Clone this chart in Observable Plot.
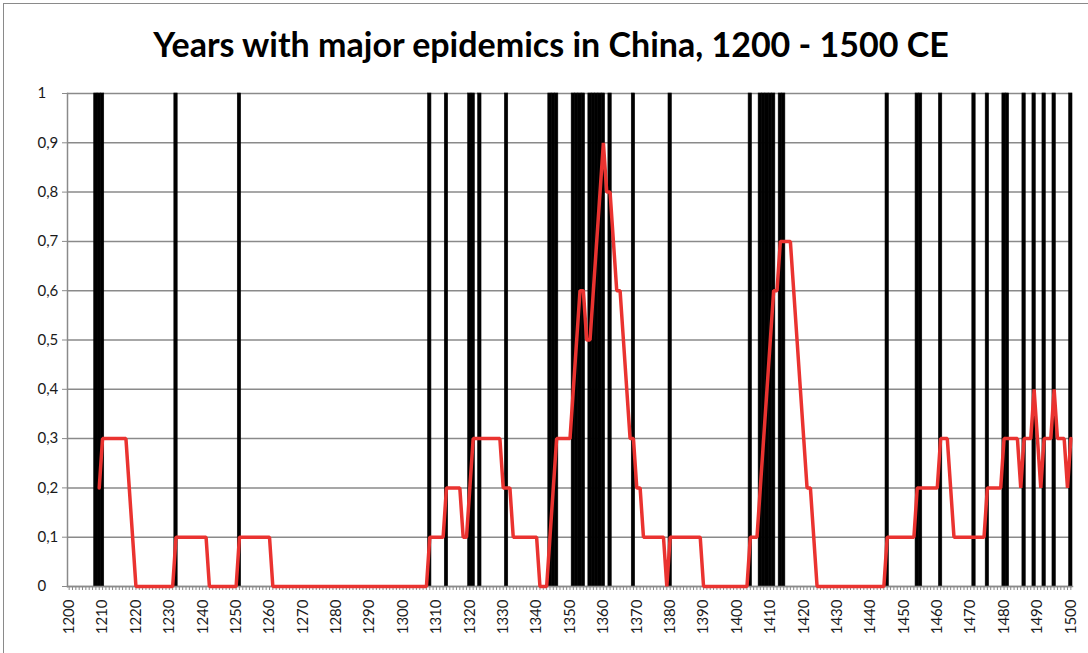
<!DOCTYPE html>
<html><head><meta charset="utf-8">
<script src="https://cdn.jsdelivr.net/npm/d3@7"></script>
<script src="https://cdn.jsdelivr.net/npm/@observablehq/plot@0.6"></script>
<style>
html,body{margin:0;padding:0;background:#fff;overflow:hidden;width:1088px;height:653px;position:relative;}
#frame{position:absolute;left:3px;top:3px;width:1100px;height:700px;border:1px solid #8a8a8a;}
#title{position:absolute;left:4px;top:22px;width:1094px;text-align:center;font:bold 34px Lato;color:#000;line-height:44px;}
#chart{position:absolute;left:0;top:80px;}
</style></head><body>
<div id="frame"></div>
<div id="title">Years with major epidemics in China, 1200 - 1500 CE</div>
<div id="chart"></div>
<script>
const epidemicYears = [1208,1209,1210,1232,1251,1308,1313,1320,1321,1323,1331,1344,1345,1346,
  1351,1352,1353,1354,1356,1357,1358,1359,1360,1362,1369,1380,1404,1407,1408,1409,1410,1411,
  1413,1414,1445,1454,1455,1461,1471,1475,1480,1481,1486,1489,1492,1495,1500];

// 10-year moving average, one value per year from 1209 to 1500
const avgStartYear = 1209;
const avgValues = [
  0.2,
  0.3,0.3,0.3,0.3,0.3,0.3,0.3,0.3,0.2,0.1,
  0,0,0,0,0,0,0,0,0,0,
  0,0,0.1,0.1,0.1,0.1,0.1,0.1,0.1,0.1,
  0.1,0.1,0,0,0,0,0,0,0,0,
  0,0.1,0.1,0.1,0.1,0.1,0.1,0.1,0.1,0.1,
  0.1,0,0,0,0,0,0,0,0,0,
  0,0,0,0,0,0,0,0,0,0,
  0,0,0,0,0,0,0,0,0,0,
  0,0,0,0,0,0,0,0,0,0,
  0,0,0,0,0,0,0,0,0.1,0.1,
  0.1,0.1,0.1,0.2,0.2,0.2,0.2,0.2,0.1,0.1,
  0.2,0.3,0.3,0.3,0.3,0.3,0.3,0.3,0.3,0.3,
  0.2,0.2,0.2,0.1,0.1,0.1,0.1,0.1,0.1,0.1,
  0.1,0,0,0,0.1,0.2,0.3,0.3,0.3,0.3,
  0.3,0.4,0.5,0.6,0.6,0.5,0.5,0.6,0.7,0.8,
  0.9,0.8,0.8,0.7,0.6,0.6,0.5,0.4,0.3,0.3,
  0.2,0.2,0.1,0.1,0.1,0.1,0.1,0.1,0.1,0,
  0.1,0.1,0.1,0.1,0.1,0.1,0.1,0.1,0.1,0.1,
  0,0,0,0,0,0,0,0,0,0,
  0,0,0,0,0.1,0.1,0.1,0.2,0.3,0.4,
  0.5,0.6,0.6,0.7,0.7,0.7,0.7,0.6,0.5,0.4,
  0.3,0.2,0.2,0.1,0,0,0,0,0,0,
  0,0,0,0,0,0,0,0,0,0,
  0,0,0,0,0,0.1,0.1,0.1,0.1,0.1,
  0.1,0.1,0.1,0.1,0.2,0.2,0.2,0.2,0.2,0.2,
  0.2,0.3,0.3,0.3,0.2,0.1,0.1,0.1,0.1,0.1,
  0.1,0.1,0.1,0.1,0.1,0.2,0.2,0.2,0.2,0.2,
  0.3,0.3,0.3,0.3,0.3,0.2,0.3,0.3,0.3,0.4,
  0.3,0.2,0.3,0.3,0.3,0.4,0.3,0.3,0.3,0.2,
  0.3
];

const allYears = d3.range(1200, 1501);
const xTickLabels = [1200,1210,1220,1230,1240,1250,1260,1270,1280,1290,1300,1310,1320,1330,1340,
  1350,1360,1370,1380,1390,1400,1410,1420,1430,1440,1450,1460,1470,1480,1490,1500];
const yTicks = [0,0.1,0.2,0.3,0.4,0.5,0.6,0.7,0.8,0.9,1];
const yTickLabels = ["0","0,1","0,2","0,3","0,4","0,5","0,6","0,7","0,8","0,9","1"];

const avgData = avgValues.map((v, i) => ({year: avgStartYear + i, value: v}));

const grid = "#8a8a8a";
const chart = Plot.plot({
  width: 1088,
  height: 573,
  marginLeft: 67,
  marginRight: 16,
  marginTop: 13,
  marginBottom: 67,
  style: {fontFamily: "Lato", fontSize: "15px", color: "#1a1a1a", background: "transparent"},
  x: {domain: [1199.5, 1500.5]},
  y: {domain: [0, 1]},
  marks: [
    Plot.gridY(yTicks, {stroke: grid, strokeOpacity: 1, strokeWidth: 1.5}),
    Plot.rectY(epidemicYears, {x1: d => d - 0.5, x2: d => d + 0.5, y1: 0, y2: 1, fill: "black", stroke: "black", strokeWidth: 0.6}),
    Plot.frame({anchor: "left", stroke: grid, strokeWidth: 1.5}),
    Plot.frame({anchor: "bottom", stroke: grid, strokeWidth: 1.5}),
    Plot.axisY(yTicks, {tickSize: 5, tickPadding: 25, stroke: grid, tickFormat: (d, i) => yTickLabels[i], fontSize: 15, textAnchor: "start", label: null}),
    Plot.axisX(allYears, {tickSize: 4, stroke: grid, tickFormat: () => "", label: null}),
    Plot.axisX(xTickLabels, {tickSize: 0, tickPadding: 13, tickRotate: -90, fontSize: 15, label: null, tickFormat: d => String(d)}),
    Plot.line(avgData, {x: "year", y: "value", stroke: "#ea3330", strokeWidth: 3.5, strokeLinejoin: "miter"})
  ]
});
document.getElementById("chart").appendChild(chart);
</script>
</body></html>
